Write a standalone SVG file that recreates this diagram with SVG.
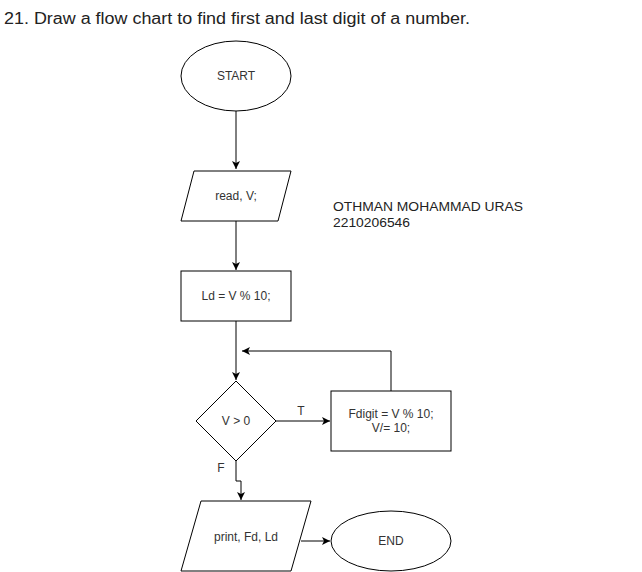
<svg xmlns="http://www.w3.org/2000/svg" width="642" height="572" viewBox="0 0 642 572">
<defs>
<marker id="ah" markerWidth="10" markerHeight="10" refX="8" refY="5" orient="auto" markerUnits="userSpaceOnUse">
<path d="M0,1 L8,5 L0,9 L2,5 Z" fill="#000"/>
</marker>
<style>
.s{fill:#fff;stroke:#000;stroke-width:1}
.t{font-family:"Liberation Sans",Arial,sans-serif;font-size:12px;fill:#333;text-anchor:middle;dominant-baseline:central}
.e{fill:none;stroke:#000;stroke-width:1}
</style>
</defs>
<rect width="642" height="572" fill="#fff"/>
<text x="4" y="24" font-family="Liberation Sans, Arial, sans-serif" font-size="16" fill="#222" textLength="466" lengthAdjust="spacingAndGlyphs">21. Draw a flow chart to find first and last digit of a number.</text>
<text x="333" y="211" font-family="Liberation Sans, Arial, sans-serif" font-size="12.5" fill="#222" textLength="190" lengthAdjust="spacingAndGlyphs">OTHMAN MOHAMMAD URAS</text>
<text x="333" y="227" font-family="Liberation Sans, Arial, sans-serif" font-size="12.5" fill="#222" textLength="77" lengthAdjust="spacingAndGlyphs">2210206546</text>
<g id="connectors">
<path class="e" d="M236,111 V169" marker-end="url(#ah)"/>
<path class="e" d="M236,221 V270" marker-end="url(#ah)"/>
<path class="e" d="M236,321 V380" marker-end="url(#ah)"/>
<path class="e" d="M276,421 H330" marker-end="url(#ah)"/>
<path class="e" d="M391,391 V351 H242" marker-end="url(#ah)"/>
<path class="e" d="M236,461 V481 H241 V500" marker-end="url(#ah)"/>
<path class="e" d="M301,541 H330" marker-end="url(#ah)"/>
<text class="t" x="301" y="411">T</text>
<text class="t" x="221" y="468">F</text>
</g>
<g id="start">
<ellipse class="s" cx="236" cy="76" rx="55" ry="35"/>
<text class="t" x="236" y="76">START</text>
</g>
<g id="read">
<polygon class="s" points="194,171 291,171 278,221 181,221"/>
<text class="t" x="236" y="196">read, V;</text>
</g>
<g id="ld">
<rect class="s" x="181" y="271" width="110" height="50"/>
<text class="t" x="236" y="296">Ld = V % 10;</text>
</g>
<g id="cond">
<polygon class="s" points="236,381 276,421 236,461 196,421"/>
<text class="t" x="236" y="421">V &gt; 0</text>
</g>
<g id="fdigit">
<rect class="s" x="331" y="391" width="120" height="60"/>
<text class="t" x="391" y="414">Fdigit = V % 10;</text>
<text class="t" x="391" y="428">V/= 10;</text>
</g>
<g id="print">
<polygon class="s" points="201,501 311,501 291,571 181,571"/>
<text class="t" x="246" y="537">print, Fd, Ld</text>
</g>
<g id="end">
<ellipse class="s" cx="391" cy="541" rx="60" ry="30"/>
<text class="t" x="391" y="541">END</text>
</g>
</svg>
